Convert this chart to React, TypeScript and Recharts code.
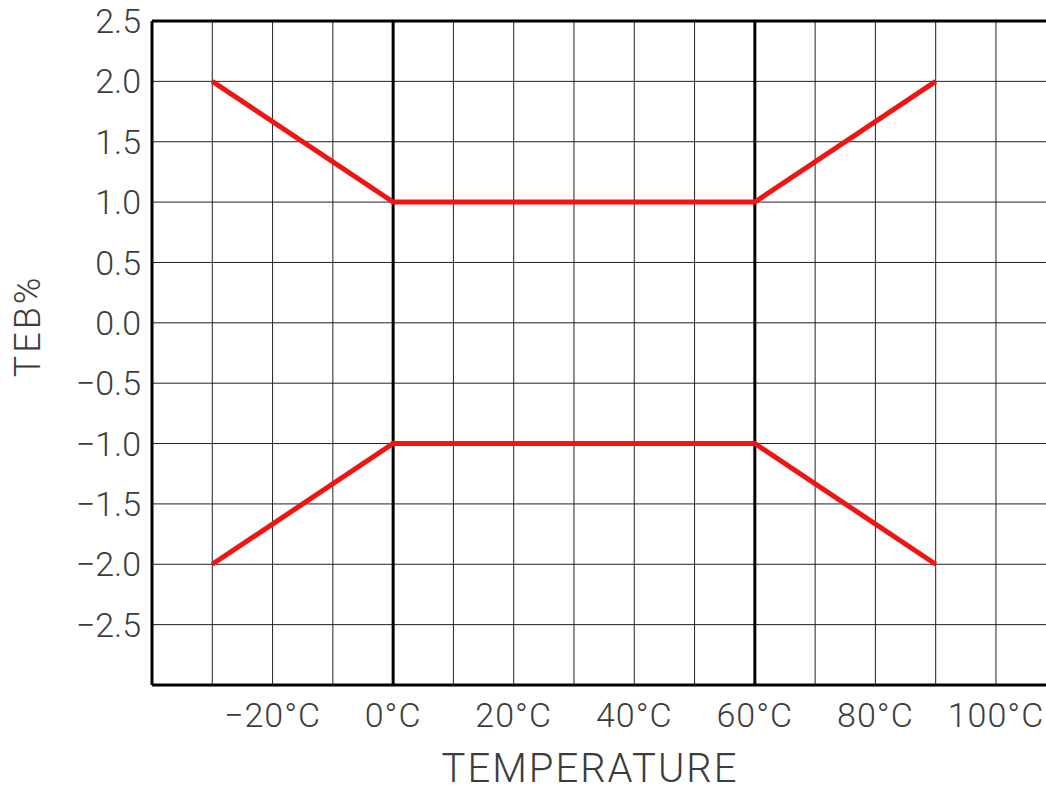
import {
    LineChart,
    Line,
    XAxis,
    YAxis,
    CartesianGrid,
    ReferenceLine,
} from "recharts";

// temperature (°C) of each break point
const temps = [-30, 0, 60, 90];
// tolerance band, TEB %
const upperLimit = [2, 1, 1, 2];
const lowerLimit = [-2, -1, -1, -2];

const xTicks = [-40, -30, -20, -10, 0, 10, 20, 30, 40, 50, 60, 70, 80, 90, 100];
const xLabelled = [-20, 0, 20, 40, 60, 80, 100];
const yTicks = [-3, -2.5, -2, -1.5, -1, -0.5, 0, 0.5, 1, 1.5, 2, 2.5];
const yLabelled = [-2.5, -2, -1.5, -1, -0.5, 0, 0.5, 1, 1.5, 2, 2.5];
const boldTemps = [0, 60];

const data = temps.map((t, i) => ({t, upper: upperLimit[i], lower: lowerLimit[i]}));

const font = "Roboto, 'Liberation Sans', sans-serif";
const ink = "#3c3c3c";

const fmtY = (v: number) => {
    if (!yLabelled.includes(v)) return "";
    return (v < 0 ? "\u2212" : "") + Math.abs(v).toFixed(1);
};
const fmtX = (v: number) => {
    if (!xLabelled.includes(v)) return "";
    return (v < 0 ? "\u2212" : "") + Math.abs(v) + "°C";
};

export default function App() {
    return <div style={{position: "absolute", left: 0, top: 0, background: "#fff"}}>
        <LineChart width={1046} height={791} data={data}
                   margin={{top: 21, right: 0, left: 0, bottom: 0}}>
            <CartesianGrid stroke="#222" strokeWidth={1} horizontalValues={yTicks}
                           verticalValues={xTicks}/>
            <XAxis type="number" dataKey="t" domain={[-40, 108.3]} ticks={xTicks}
                   allowDataOverflow interval={0}
                   tickFormatter={fmtX} tickLine={false} tickSize={0} tickMargin={18}
                   height={106}
                   axisLine={{stroke: "#000", strokeWidth: 3}}
                   tick={{fill: ink, fontSize: 34, fontFamily: font, fontWeight: 300, letterSpacing: 1}}
                   label={{
                       value: "TEMPERATURE", position: "insideBottom", offset: 9, dx: -9,
                       fill: ink, fontSize: 40, fontFamily: font, fontWeight: 300, letterSpacing: 2,
                   }}/>
            <YAxis type="number" domain={[-3, 2.5]} ticks={yTicks} interval={0}
                   allowDataOverflow
                   tickFormatter={fmtY} tickLine={false} tickSize={0} tickMargin={11}
                   width={152}
                   axisLine={{stroke: "#000", strokeWidth: 3}}
                   tick={{fill: ink, fontSize: 34, fontFamily: font, fontWeight: 300}}
                   label={{
                       content: (p: any) => {
                           const vb = p.viewBox;
                           const cx = vb.x + 28;
                           const cy = vb.y + vb.height / 2 - 27;
                           return <text x={cx} y={cy} textAnchor="middle" dominantBaseline="central"
                                        transform={`rotate(-90 ${cx} ${cy})`}
                                        fill={ink} fontSize={36} fontFamily={font} fontWeight={300}
                                        letterSpacing={3}>TEB%</text>;
                       }
                   }}/>
            <ReferenceLine y={2.5} stroke="#000" strokeWidth={3}/>
            {boldTemps.map(t => <ReferenceLine key={t} x={t} stroke="#000" strokeWidth={3}/>)}
            <Line type="linear" dataKey="upper" stroke="#f01414" strokeWidth={5} dot={false}
                  activeDot={false} isAnimationActive={false}/>
            <Line type="linear" dataKey="lower" stroke="#f01414" strokeWidth={5} dot={false}
                  activeDot={false} isAnimationActive={false}/>
        </LineChart>
    </div>;
}
